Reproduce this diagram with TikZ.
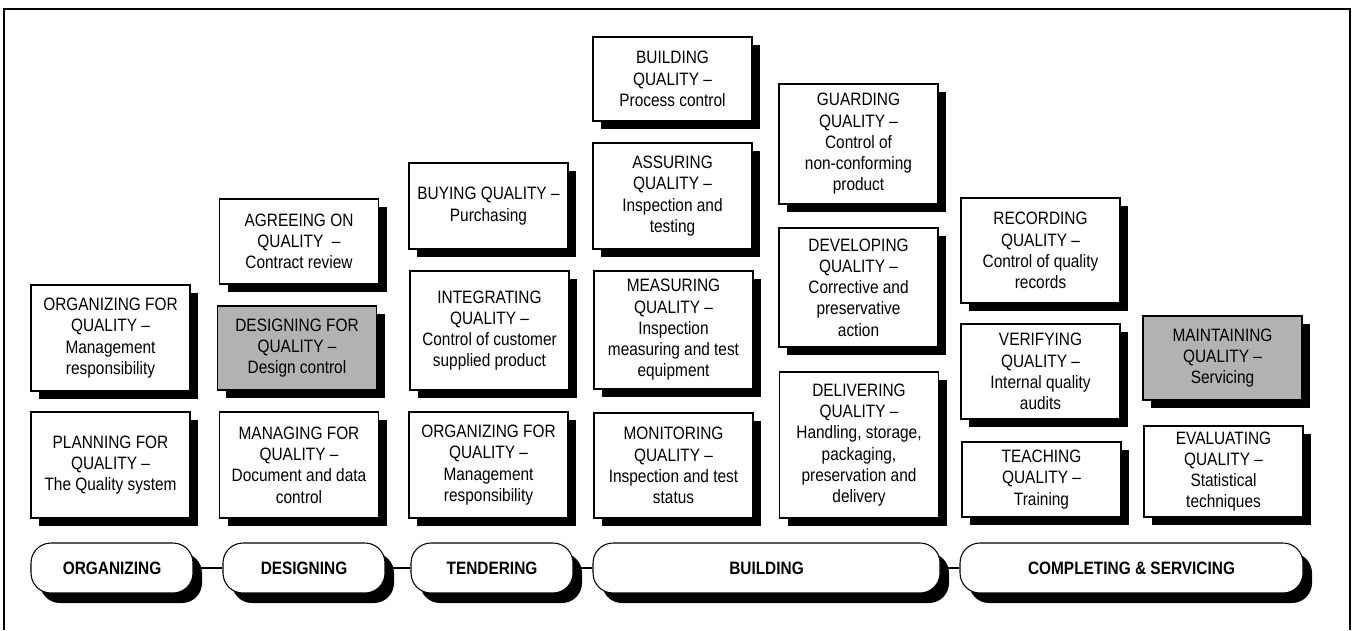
\documentclass[tikz,border=0pt]{standalone}
\usepackage{fontspec}
\setmainfont[FakeStretch=0.86]{Liberation Sans}
\usetikzlibrary{shadows, positioning}

\begin{document}
\begin{tikzpicture}[
  font=\fontsize{10.2}{12.1}\selectfont,
  quality/.style={draw=black, fill=white, line width=0.6pt, align=center,
                  minimum width=3.18cm, inner sep=0pt,
                  drop shadow={shadow xshift=0.16cm, shadow yshift=-0.16cm,
                               fill=black, opacity=1}},
  qgrey/.style={quality, fill=black!30},
  stage/.style={draw=black, fill=white, line width=0.6pt, rounded corners=0.4cm,
                minimum height=1cm, inner sep=0pt, font=\fontsize{10.2}{12.1}\selectfont\bfseries,
                drop shadow={shadow xshift=0.18cm, shadow yshift=-0.2cm,
                             fill=black, opacity=1}},
  link/.style={draw=black, line width=0.6pt}
]
\useasboundingbox (0,0) rectangle (27.06,-12.6);

% organizing
\node[quality, minimum height=2.12cm] (orgQ) at (2.21,-6.76) {ORGANIZING FOR\\QUALITY –\\Management\\responsibility};
\node[quality, minimum height=2.12cm] (planQ) at (2.21,-9.30) {PLANNING FOR\\QUALITY –\\The Quality system};

% designing
\node[quality, minimum height=1.70cm] (agreeQ) at (5.98,-4.83) {AGREEING ON\\QUALITY ~–\\Contract review};
\node[qgrey, minimum height=1.68cm] (designQ) at (5.94,-6.96) {DESIGNING FOR\\QUALITY –\\Design control};
\node[quality, minimum height=2.12cm] (manageQ) at (5.98,-9.30) {MANAGING FOR\\QUALITY –\\Document and data\\control};

% tendering
\node[quality, minimum height=1.72cm] (buyQ) at (9.77,-4.12) {BUYING QUALITY –\\Purchasing};
\node[quality, minimum height=2.38cm] (integQ) at (9.79,-6.61) {INTEGRATING\\QUALITY –\\Control of customer\\supplied product};
\node[quality, minimum height=2.12cm] (org2Q) at (9.77,-9.30) {ORGANIZING FOR\\QUALITY –\\Management\\responsibility};

% building
\node[quality, minimum height=1.68cm] (buildQ) at (13.45,-1.58) {BUILDING\\QUALITY –\\Process control};
\node[quality, minimum height=2.12cm] (assureQ) at (13.45,-3.92) {ASSURING\\QUALITY –\\Inspection and\\testing};
\node[quality, minimum height=2.36cm] (measureQ) at (13.47,-6.60) {MEASURING\\QUALITY –\\Inspection\\measuring and test\\equipment};
\node[quality, minimum height=2.10cm] (monitorQ) at (13.47,-9.31) {MONITORING\\QUALITY –\\Inspection and test\\status};
\node[quality, minimum height=2.40cm] (guardQ) at (17.17,-2.88) {GUARDING\\QUALITY –\\Control of\\non-conforming\\product};
\node[quality, minimum height=2.38cm] (developQ) at (17.17,-5.75) {DEVELOPING\\QUALITY –\\Corrective and\\preservative\\action};
\node[quality, minimum height=2.92cm] (deliverQ) at (17.18,-8.90) {DELIVERING\\QUALITY –\\Handling, storage,\\packaging,\\preservation and\\delivery};

% completing & servicing
\node[quality, minimum height=2.10cm] (recordQ) at (20.81,-5.01) {RECORDING\\QUALITY –\\Control of quality\\records};
\node[quality, minimum height=1.90cm] (verifyQ) at (20.81,-7.43) {VERIFYING\\QUALITY –\\Internal quality\\audits};
\node[quality, minimum height=1.50cm] (teachQ) at (20.83,-9.59) {TEACHING\\QUALITY –\\Training};
\node[qgrey, minimum height=1.68cm] (maintainQ) at (24.45,-7.16) {MAINTAINING\\QUALITY –\\Servicing};
\node[quality, minimum height=1.82cm] (evalQ) at (24.47,-9.43) {EVALUATING\\QUALITY –\\Statistical\\techniques};

% stages
\node[stage, minimum width=3.24cm] (org) at (2.24,-11.36) {ORGANIZING};
\node[stage, minimum width=3.24cm] (des) at (6.08,-11.36) {DESIGNING};
\node[stage, minimum width=3.24cm] (ten) at (9.84,-11.36) {TENDERING};
\node[stage, minimum width=6.94cm] (bui) at (15.33,-11.36) {BUILDING};
\node[stage, minimum width=6.86cm] (com) at (22.63,-11.36) {COMPLETING \& SERVICING};
\foreach \a/\b in {org/des, des/ten, ten/bui, bui/com}
  \draw[link] (\a.east) -- (\b.west);

% frame
\draw[line width=1.2pt] (0.08,-12.6) -- (0.08,-0.18) -- (27.0,-0.18) -- (27.0,-12.6);

\end{tikzpicture}
\end{document}
